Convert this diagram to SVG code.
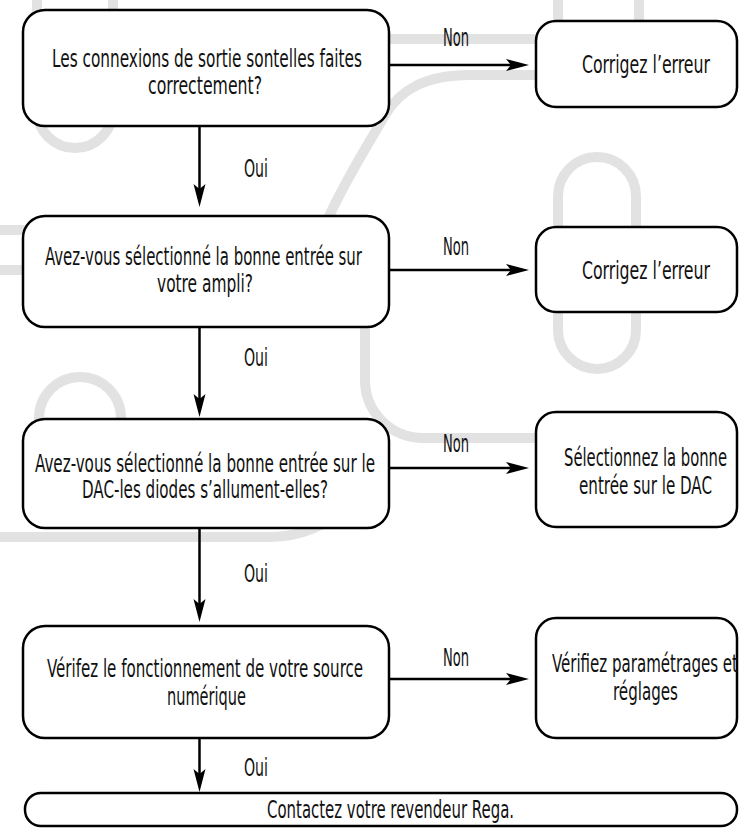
<svg xmlns="http://www.w3.org/2000/svg" width="740" height="828" viewBox="0 0 740 828">
<style>
.wm{fill:none;stroke:#e2e2e2;stroke-width:10}
.box{fill:#fff;stroke:#000;stroke-width:2.5}
.ln{fill:none;stroke:#000;stroke-width:2.5}
.t{font-family:"DejaVu Sans Condensed","Liberation Sans Narrow","Liberation Sans",sans-serif;font-size:24px;fill:#111}
</style>
<defs>
<marker id="ah" markerUnits="userSpaceOnUse" markerWidth="24" markerHeight="14" refX="13" refY="6" orient="auto">
<path d="M0,0 L23,6 L0,12 L5,6 Z" fill="#000"/>
</marker>
</defs>
<g id="watermark">
<path class="wm" d="M37,-10 V110 A38,38 0 0 0 113,110 V-10"/>
<path class="wm" d="M389,39 H540"/>
<path class="wm" d="M540,75 H470 C425,75 400,90 385,115 C365,150 345,180 325,225"/>
<path class="wm" d="M365,320 V380 A58,58 0 0 0 423,438 H540"/>
<path class="wm" d="M-5,537 H270 C300,537 330,525 345,505"/>
<path class="wm" d="M558,330 V196 A39,39 0 0 1 636,196 V330 A39,39 0 0 1 558,330 Z"/>
<path class="wm" d="M558,-5 V40 M639,-5 V40"/>
<path class="wm" d="M39,440 V418 A41,41 0 0 1 121,418 V440"/>
<path class="wm" d="M-5,230 H30 M-5,270 H30"/>
</g>
<g id="connectors">
<path class="ln" d="M389,65 H519" marker-end="url(#ah)"/>
<path class="ln" d="M389,270 H519" marker-end="url(#ah)"/>
<path class="ln" d="M389,468 H519" marker-end="url(#ah)"/>
<path class="ln" d="M389,679 H519" marker-end="url(#ah)"/>
<path class="ln" d="M199.5,126 V197" marker-end="url(#ah)"/>
<path class="ln" d="M199.5,327 V407" marker-end="url(#ah)"/>
<path class="ln" d="M199.5,528 V612" marker-end="url(#ah)"/>
<path class="ln" d="M199.5,738 V782" marker-end="url(#ah)"/>
<text class="t" transform="translate(443,46) scale(0.6,1)" textLength="43.3" lengthAdjust="spacingAndGlyphs">Non</text>
<text class="t" transform="translate(443,255) scale(0.6,1)" textLength="43.3" lengthAdjust="spacingAndGlyphs">Non</text>
<text class="t" transform="translate(443,452) scale(0.6,1)" textLength="43.3" lengthAdjust="spacingAndGlyphs">Non</text>
<text class="t" transform="translate(443,666) scale(0.6,1)" textLength="43.3" lengthAdjust="spacingAndGlyphs">Non</text>
<text class="t" transform="translate(244,177) scale(0.6,1)" textLength="40" lengthAdjust="spacingAndGlyphs">Oui</text>
<text class="t" transform="translate(244,366) scale(0.6,1)" textLength="40" lengthAdjust="spacingAndGlyphs">Oui</text>
<text class="t" transform="translate(244,582) scale(0.6,1)" textLength="40" lengthAdjust="spacingAndGlyphs">Oui</text>
<text class="t" transform="translate(244,776) scale(0.6,1)" textLength="40" lengthAdjust="spacingAndGlyphs">Oui</text>
</g>
<g id="q1">
<rect class="box" x="23" y="10" width="366" height="116" rx="22"/>
<text class="t" transform="translate(52,67) scale(0.6,1)" textLength="516.7" lengthAdjust="spacingAndGlyphs">Les connexions de sortie sontelles faites</text>
<text class="t" transform="translate(148,94) scale(0.6,1)" textLength="190" lengthAdjust="spacingAndGlyphs">correctement?</text>
</g>
<g id="r1">
<rect class="box" x="536" y="21" width="201" height="86" rx="20"/>
<text class="t" transform="translate(582,73) scale(0.6,1)" textLength="213.3" lengthAdjust="spacingAndGlyphs">Corrigez l’erreur</text>
</g>
<g id="q2">
<rect class="box" x="23" y="216" width="366" height="111" rx="22"/>
<text class="t" transform="translate(45,265) scale(0.6,1)" textLength="528.3" lengthAdjust="spacingAndGlyphs">Avez-vous sélectionné la bonne entrée sur</text>
<text class="t" transform="translate(157,292) scale(0.6,1)" textLength="160" lengthAdjust="spacingAndGlyphs">votre ampli?</text>
</g>
<g id="r2">
<rect class="box" x="536" y="227" width="201" height="85" rx="20"/>
<text class="t" transform="translate(582,279) scale(0.6,1)" textLength="213.3" lengthAdjust="spacingAndGlyphs">Corrigez l’erreur</text>
</g>
<g id="q3">
<rect class="box" x="23" y="419" width="366" height="109" rx="22"/>
<text class="t" transform="translate(35,472) scale(0.6,1)" textLength="566.7" lengthAdjust="spacingAndGlyphs">Avez-vous sélectionné la bonne entrée sur le</text>
<text class="t" transform="translate(82,498) scale(0.6,1)" textLength="410" lengthAdjust="spacingAndGlyphs">DAC-les diodes s’allument-elles?</text>
</g>
<g id="r3">
<rect class="box" x="536" y="412" width="201" height="115" rx="20"/>
<text class="t" transform="translate(564,466) scale(0.6,1)" textLength="271.7" lengthAdjust="spacingAndGlyphs">Sélectionnez la bonne</text>
<text class="t" transform="translate(579,494) scale(0.6,1)" textLength="221.7" lengthAdjust="spacingAndGlyphs">entrée sur le DAC</text>
</g>
<g id="q4">
<rect class="box" x="23" y="626" width="366" height="112" rx="22"/>
<text class="t" transform="translate(47,677) scale(0.6,1)" textLength="526.7" lengthAdjust="spacingAndGlyphs">Vérifez le fonctionnement de votre source</text>
<text class="t" transform="translate(167,705) scale(0.6,1)" textLength="131.7" lengthAdjust="spacingAndGlyphs">numérique</text>
</g>
<g id="r4">
<rect class="box" x="536" y="618" width="201" height="120" rx="20"/>
<text class="t" transform="translate(552,672) scale(0.6,1)" textLength="310" lengthAdjust="spacingAndGlyphs">Vérifiez paramétrages et</text>
<text class="t" transform="translate(613,700) scale(0.6,1)" textLength="108.3" lengthAdjust="spacingAndGlyphs">réglages</text>
</g>
<g id="end">
<rect class="box" x="25" y="793" width="712" height="33" rx="16"/>
<text class="t" transform="translate(267,818) scale(0.6,1)" textLength="411.7" lengthAdjust="spacingAndGlyphs">Contactez votre revendeur Rega.</text>
</g>
</svg>
